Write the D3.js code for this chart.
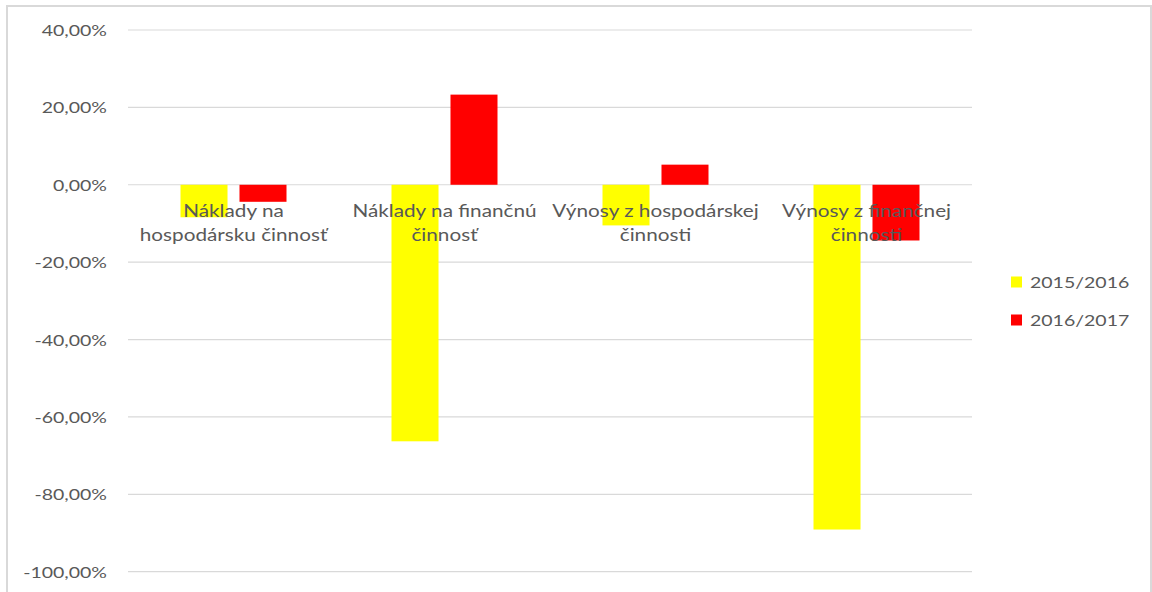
<!DOCTYPE html>
<html>
<head>
<meta charset="utf-8">
<script src="https://cdn.jsdelivr.net/npm/d3@7/dist/d3.min.js"></script>
<style>
  html, body { margin: 0; padding: 0; background: #fff; }
  svg { display: block; }
  text { font-family: Lato, "Open Sans", sans-serif; fill: #595959; }
</style>
</head>
<body>
<svg id="chart" width="1152" height="592"></svg>
<script>
// Category labels (each split over two lines, as wrapped in the chart)
const categories = [
  ["Náklady na", "hospodársku činnosť"],
  ["Náklady na finančnú", "činnosť"],
  ["Výnosy z hospodárskej", "činnosti"],
  ["Výnosy z finančnej", "činnosti"]
];
const seriesNames = ["2015/2016", "2016/2017"];
const seriesColors = ["#FFFF00", "#FF0000"];
// Year-on-year change in percent, per category
const values2015_2016 = [-8.4, -66.3, -10.5, -89.1];
const values2016_2017 = [-4.4, 23.3, 5.2, -14.4];
const yTicks = [40, 20, 0, -20, -40, -60, -80, -100];

const seriesValues = [values2015_2016, values2016_2017];
const catKeys = categories.map(c => c.join(" "));

// the text is set a little wider than the font's natural proportions
const STRETCH = 1.22;

const svg = d3.select("#chart");

// outer frame
svg.append("rect")
  .attr("x", 7).attr("y", 6)
  .attr("width", 1144).attr("height", 610)
  .attr("fill", "none")
  .attr("stroke", "#d9d9d9")
  .attr("stroke-width", 2);

const plot = { left: 128, right: 972, top: 30, bottom: 571.7 };

const y = d3.scaleLinear().domain([-100, 40]).range([plot.bottom, plot.top]);
const x = d3.scaleBand().domain(catKeys).range([plot.left, plot.right]).padding(0);
const groupWidth = 106;
const xSub = d3.scaleBand().domain(seriesNames)
  .range([-groupWidth / 2, groupWidth / 2])
  .paddingInner(0.203).paddingOuter(0);

// percent with two decimals, decimal comma and a plain hyphen for negatives
const fmt = v => d3.format(".2f")(v).replace(".", ",").replace("\u2212", "-") + "%";

// y tick labels via axis
const yAxis = d3.axisLeft(y).tickValues(yTicks).tickSize(0).tickPadding(0).tickFormat(fmt);
const gAxis = svg.append("g").attr("transform", `translate(107,0)`).call(yAxis);
gAxis.select(".domain").remove();
gAxis.selectAll("text")
  .attr("font-size", 16)
  .attr("fill", "#595959")
  .attr("font-family", "Lato, 'Open Sans', sans-serif")
  .attr("x", 0)
  .attr("dy", "0.35em")
  .attr("transform", `scale(${STRETCH},1)`);

// horizontal gridlines
svg.append("g").selectAll("line").data(yTicks).join("line")
  .attr("x1", plot.left).attr("x2", plot.right)
  .attr("y1", d => y(d)).attr("y2", d => y(d))
  .attr("stroke", "#d9d9d9").attr("stroke-width", 1.2);

// bars
const rows = [];
seriesNames.forEach((s, si) => {
  catKeys.forEach((c, ci) => rows.push({ s, si, c, v: seriesValues[si][ci] }));
});

svg.append("g").selectAll("rect").data(rows).join("rect")
  .attr("x", d => x(d.c) + x.bandwidth() / 2 + xSub(d.s))
  .attr("width", xSub.bandwidth())
  .attr("y", d => y(Math.max(0, d.v)))
  .attr("height", d => Math.abs(y(d.v) - y(0)))
  .attr("fill", d => seriesColors[d.si]);

// category labels, drawn over the bars just below the zero line
const labels = svg.append("g").selectAll("text").data(categories).join("text")
  .attr("text-anchor", "middle")
  .attr("font-size", 17)
  .attr("transform", (d, i) => `translate(${x(catKeys[i]) + x.bandwidth() / 2},0) scale(${STRETCH},1)`);
labels.selectAll("tspan").data(d => d).join("tspan")
  .attr("x", 0)
  .attr("y", (d, i) => 217.5 + i * 23.5)
  .text(d => d);

// legend
const legend = svg.append("g").selectAll("g").data(seriesNames).join("g")
  .attr("transform", (d, i) => `translate(1011, ${282 + i * 38})`);
legend.append("rect")
  .attr("x", 0).attr("y", -5.5).attr("width", 11).attr("height", 11)
  .attr("fill", (d, i) => seriesColors[i]);
legend.append("text")
  .attr("transform", `translate(19,0) scale(${STRETCH},1)`)
  .attr("dy", "0.35em")
  .attr("font-size", 16)
  .text(d => d);
</script>
</body>
</html>
